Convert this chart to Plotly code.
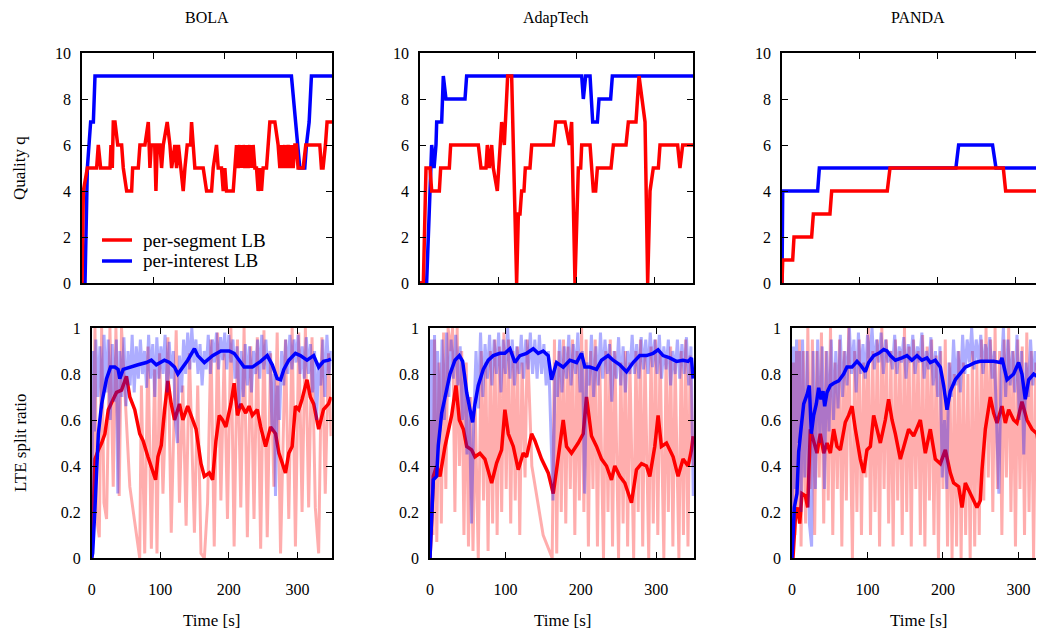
import plotly.graph_objects as go

# ---------------- Top row: Quality q ----------------
bola_q_seg_t = [0, 1.9, 7.5, 20.5, 22.8, 26.1, 39.2, 40.6, 42.4, 43.8, 46.2, 50, 55.5, 57.8, 62.5, 69.5, 70.9, 78.8, 81.1, 88.1,
                92.8, 95.1, 97, 101.8, 103.5, 105.4, 109.1, 111.4, 113.8, 119.3, 123.1, 125.5, 130, 132.4, 135, 141.7, 144.1,
                147.3, 152, 153.4, 155.7, 158, 169.7, 174.4, 181.4, 183.7, 188.3, 190.7, 195.3, 197.7, 200, 202.3, 211.7,
                214, 216.3, 218.6, 221, 223.3, 225.6, 228, 230.3, 232.6, 235, 237.3, 239.6, 242, 244.3, 246.6, 249, 251.3,
                253.6, 258.3, 260.6, 263, 270, 274.6, 277, 279.3, 281.6, 284, 286.2, 288.6, 290.9, 293.2, 295.6, 298,
                300.2, 302.5, 309.6, 313.3, 321.2, 323.5, 332.9, 335.2, 337.5, 340.8, 343.1, 350]
bola_q_seg = [0, 4, 5, 5, 6, 5, 5, 6, 5, 7, 7, 6, 6, 5, 4, 4, 5, 5, 6, 6,
              7, 5, 6, 6, 4, 6, 6, 5, 6, 7, 6, 5, 6, 5, 6, 4, 5,
              6, 6, 7, 6, 5, 5, 4, 4, 5, 6, 5, 5, 4, 5, 4, 4,
              5, 6, 5, 6, 5, 6, 5, 6, 5, 6, 5, 6, 5, 5, 4, 5, 4,
              5, 5, 6, 7, 7, 6, 5, 6, 5, 6, 5, 6, 5, 6, 5, 6,
              6, 5, 5, 6, 6, 6, 6, 5, 5, 6, 7, 7]
bola_q_int_t = [0, 4.2, 7.5, 9.8, 12.1, 15.9, 18.2, 293.2, 304.9, 311.9, 314.2, 318, 321.2, 350]
bola_q_int = [0, 0, 5, 6, 7, 7, 9, 9, 5, 5, 6, 7, 9, 9]

adap_q_seg_t = [0, 4.3, 7.7, 12.8, 15, 24.8, 26.5, 37.6, 39.3, 74.8, 78.2, 84.6, 86.3, 88.9, 91.9, 94, 99.1, 104.7, 108.1,
                112.4, 117.5, 123.9, 126.1, 128.2, 130.3, 133.3, 135, 141, 143.2, 170.9, 173.9, 185.9, 191.5, 194.4,
                198.7, 203, 206, 207.3, 218, 222.2, 225.2, 227.4, 244.9, 247.9, 264.1, 267.1, 276.9, 280.8, 288.5,
                291.9, 294.9, 299.1, 305.6, 307.7, 330.3, 333.3, 336.8, 350]
adap_q_seg = [0, 0, 5, 5, 4, 4, 5, 5, 6, 6, 5, 5, 6, 5, 6, 5, 4, 7, 6,
              9, 9, 0, 3, 3, 4, 4, 5, 5, 6, 6, 7, 7, 6, 7,
              0, 5, 5, 6, 6, 4, 4, 5, 5, 6, 6, 7, 7, 9, 7,
              0, 4, 5, 5, 6, 6, 5, 6, 6]
adap_q_int_t = [0, 8.5, 15, 18, 20.5, 21.4, 27.8, 29.9, 33.3, 57.7, 59.8, 207.3, 209.4, 212.4, 218, 221.4, 227.4, 229.5,
                244.4, 246.6, 350]
adap_q_int = [0, 0, 6, 5, 6, 7, 7, 9, 8, 8, 9, 9, 8, 9, 9, 7, 7, 8, 8, 9, 9]

panda_q_seg_t = [0, 0.9, 13.7, 15.4, 38, 40.2, 61.5, 63.7, 135, 138.5, 283.8, 286.8, 350]
panda_q_seg = [0, 1, 1, 2, 2, 3, 3, 4, 4, 5, 5, 4, 4]
panda_q_int_t = [0, 0.9, 45.7, 47.9, 223, 226.5, 270, 274.4, 350]
panda_q_int = [0, 4, 4, 5, 5, 6, 6, 5, 5]

# ---------------- Bottom row: LTE split ratio ----------------
# BOLA
bola_r_seg_raw_t = [0, 4.8, 7.2, 11.1, 14.5, 17.9, 21.7, 26.6, 31.4, 35.3, 40.1, 43.5, 55.6, 70, 72.5, 77.3, 82.1, 87,
                    91.8, 95.2, 99, 103.9, 111.1, 116, 123.2, 128, 132.9, 137.7, 142.5, 149.8, 154.6, 159.4, 164.3,
                    169, 173.9, 178.7, 183.6, 188.4, 193.2, 198, 203, 207.7, 212.6, 217.4, 222.2, 227, 231.9, 236.7,
                    241.5, 246.4, 251.2, 256, 260.9, 265.7, 270.5, 275.4, 282.6, 287.4, 292.3, 297.1, 302, 306.8,
                    311.6, 316.4, 321.3, 326.1, 331, 335.7, 340.6, 345.4, 349]
bola_r_seg_raw = [0.14, 1.0, 0.17, 0.09, 1.0, 0.24, 0.17, 1.0, 0.31, 1.0, 0.27, 1.0, 0.31, 0.0, 0.75, 0.02, 0.92, 0.04,
                  0.82, 0.02, 0.89, 0.28, 0.96, 0.11, 0.99, 0.24, 0.75, 0.14, 0.89, 0.11, 0.75, 0.02, 0.0,
                  0.24, 0.95, 0.05, 0.98, 0.25, 0.89, 0.17, 1.0, 0.05, 0.95, 0.22, 1.0, 0.09, 0.92, 0.17,
                  0.96, 0.04, 0.99, 0.09, 0.89, 0.31, 0.98, 0.02, 0.95, 0.17, 1.0, 0.05, 0.98, 0.2,
                  1.0, 0.22, 0.96, 0.22, 0.02, 0.96, 0.28, 0.89, 0.53]
bola_r_seg_avg_t = [0, 1.4, 4.8, 9.7, 14.5, 19.3, 24.2, 31.4, 36.2, 43.5, 50.7, 55.6, 62.8, 70, 74.9, 82, 89.4, 93.2, 96.6,
                    101.4, 106.3, 111.1, 116, 120.8, 128, 132.9, 140, 145, 152.2, 159.4, 164.3, 171.5, 176.3, 181.2,
                    186, 190.8, 195.7, 203, 207.7, 212.6, 217.4, 224.6, 229.5, 234.3, 241.5, 246.4, 253.6, 260.9,
                    268.1, 273, 277.8, 282.6, 287.4, 292.3, 297.1, 302, 306.8, 314, 318.8, 323.7, 331, 338, 345.4, 349]
bola_r_seg_avg = [0.0, 0.17, 0.43, 0.47, 0.5, 0.54, 0.645, 0.69, 0.72, 0.73, 0.79, 0.7, 0.645, 0.54, 0.51, 0.44, 0.38,
                  0.34, 0.44, 0.49, 0.645, 0.77, 0.67, 0.6, 0.67, 0.6, 0.66, 0.62, 0.56, 0.41, 0.355, 0.37, 0.34,
                  0.51, 0.62, 0.6, 0.57, 0.67, 0.76, 0.62, 0.67, 0.63, 0.66, 0.62, 0.645, 0.57, 0.485, 0.57, 0.54,
                  0.456, 0.41, 0.37, 0.456, 0.485, 0.66, 0.645, 0.69, 0.775, 0.7, 0.67, 0.56, 0.645, 0.67, 0.7]
bola_r_int_raw_t = [0, 2, 4, 6, 9, 12, 15, 18, 21, 24, 27, 30, 33, 36, 38, 41, 44, 47, 50, 53, 56, 59, 62, 65, 68, 71, 74,
                    77, 80, 83, 86, 89, 92, 95, 98, 101, 104, 107, 110, 113, 116, 119, 122, 125, 128, 131, 134, 137,
                    140, 143, 146, 149, 152, 155, 158, 161, 164, 167, 170, 173, 176, 179, 182, 185, 188, 191, 194,
                    197, 200, 203, 206, 209, 212, 215, 218, 221, 224, 227, 230, 233, 236, 239, 242, 245, 248, 251,
                    254, 257, 260, 263, 266, 268, 271, 274, 277, 280, 283, 286, 289, 292, 295, 298, 301, 304, 307,
                    310, 313, 316, 319, 322, 325, 328, 331, 334, 337, 340, 343, 346, 349]
bola_r_int_raw = [0.0, 0.9, 0.55, 0.95, 0.7, 0.92, 0.65, 0.97, 0.72, 0.95, 0.6, 0.93, 0.68, 0.95, 0.28, 0.9, 0.7, 0.96,
                  0.66, 0.9, 0.75, 0.97, 0.72, 0.92, 0.78, 0.95, 0.8, 0.9, 0.74, 0.97, 0.78, 0.93, 0.7, 0.96, 0.78,
                  0.92, 0.8, 0.97, 0.72, 0.94, 0.78, 0.9, 0.6, 0.5, 0.88, 0.72, 0.95, 0.8, 0.98, 0.82, 1.0, 0.85,
                  0.95, 0.8, 0.93, 0.75, 0.9, 0.82, 0.97, 0.8, 0.95, 0.85, 0.98, 0.82, 0.96, 0.86, 0.98, 0.82, 0.97,
                  0.85, 0.95, 0.78, 0.92, 0.65, 0.9, 0.7, 0.93, 0.75, 0.92, 0.72, 0.9, 0.8, 0.95, 0.78, 0.97, 0.82,
                  0.95, 0.8, 0.9, 0.55, 0.8, 0.27, 0.75, 0.6, 0.9, 0.75, 0.95, 0.8, 0.97, 0.82, 0.95, 0.85, 0.97,
                  0.8, 0.92, 0.78, 0.96, 0.8, 0.93, 0.72, 0.9, 0.6, 0.85, 0.75, 0.95, 0.7, 0.97, 0.8, 0.9]
bola_r_int_avg_t = [0, 1.4, 4.8, 9.7, 14.5, 21.7, 27.5, 33.8, 38.5, 41, 45.9, 55.6, 67.6, 79.7, 87, 94.2, 106, 113.5,
                    120.8, 125.6, 130.4, 140, 149.8, 154.6, 164.3, 176.3, 188.4, 200.5, 207.7, 215, 222.2, 234.3,
                    246.4, 256, 263.3, 270.5, 275.4, 280.2, 287.4, 297.1, 304.3, 314, 323.7, 331, 338, 345.4, 349]
bola_r_int_avg = [0.0, 0.02, 0.22, 0.54, 0.67, 0.78, 0.83, 0.83, 0.82, 0.78, 0.82, 0.83, 0.84, 0.85, 0.86, 0.84, 0.86,
                  0.85, 0.83, 0.8, 0.82, 0.86, 0.91, 0.88, 0.85, 0.88, 0.9, 0.9, 0.89, 0.86, 0.83, 0.83, 0.855,
                  0.88, 0.84, 0.78, 0.775, 0.82, 0.86, 0.89, 0.88, 0.86, 0.88, 0.83, 0.855, 0.86, 0.865]

# AdapTech
adap_r_seg_raw_t = [0, 2, 4, 6, 9, 12, 15, 18, 21, 24, 27, 30, 33, 36, 39, 42, 45, 48, 51, 54, 57, 60, 64, 68, 71, 74, 77,
                    80, 83, 86, 89, 92, 95, 98, 101, 104, 107, 110, 113, 116, 119, 122, 126, 129, 135, 150, 162, 165,
                    168, 171, 174, 177, 180, 183, 186, 189, 192, 195, 198, 201, 204, 207, 210, 213, 216, 219, 222,
                    225, 230, 233, 236, 239, 242, 245, 250, 253, 256, 259, 262, 265, 270, 273, 276, 279, 282, 285,
                    290, 293, 296, 299, 302, 305, 310, 313, 316, 319, 322, 325, 330, 333, 336, 339, 342, 345, 349]
adap_r_seg_raw = [0.0, 0.6, 0.1, 0.95, 0.07, 0.85, 0.15, 0.98, 0.3, 1.0, 0.9, 1.0, 0.2, 1.0, 0.4, 0.9, 0.1, 0.85, 0.05,
                  0.7, 0.03, 0.65, 0.0, 0.9, 0.25, 0.85, 0.03, 0.9, 0.15, 0.95, 0.1, 0.92, 0.2, 0.98, 0.3, 0.95,
                  0.15, 0.9, 0.25, 0.92, 0.1, 0.85, 0.35, 0.95, 0.4, 0.1, 0.0, 0.95, 0.02, 0.9, 0.2, 0.95, 0.15,
                  0.92, 0.3, 0.95, 0.1, 0.9, 0.25, 1.0, 0.2, 0.95, 0.05, 0.9, 0.3, 0.95, 0.05, 0.85, 0.0, 0.9, 0.2,
                  0.95, 0.05, 0.9, 0.0, 0.85, 0.15, 0.9, 0.05, 0.85, 0.0, 0.9, 0.2, 0.95, 0.05, 0.88, 0.0, 0.92,
                  0.15, 0.95, 0.1, 0.9, 0.0, 0.88, 0.2, 0.92, 0.05, 0.85, 0.0, 0.9, 0.1, 0.95, 0.05, 0.88, 0.4]
adap_r_seg_avg_t = [0, 2.2, 4.4, 8.8, 13.2, 19.9, 28.7, 34.4, 38.9, 44.2, 48.6, 55.2, 59.6, 66.2, 72.8, 81.7, 88.3, 94.9,
                    99.3, 103.8, 110.4, 117, 123.6, 128, 134.7, 139.1, 147.9, 156.7, 163.4, 167.8, 176.6, 181, 187.6,
                    196.5, 203.1, 207.5, 214.1, 220.8, 227.4, 234, 240.6, 245, 251.7, 258.3, 267.1, 273.7, 280.4,
                    287, 291.4, 298, 302.4, 306.8, 313.5, 322.3, 328.9, 335.5, 342.2, 346.6, 348.8]
adap_r_seg_avg = [0.0, 0.22, 0.355, 0.4, 0.355, 0.485, 0.62, 0.75, 0.6, 0.56, 0.485, 0.47, 0.44, 0.455, 0.43, 0.326,
                  0.413, 0.47, 0.645, 0.54, 0.485, 0.384, 0.456, 0.44, 0.54, 0.51, 0.43, 0.37, 0.28, 0.384, 0.6,
                  0.485, 0.456, 0.5, 0.54, 0.7, 0.53, 0.485, 0.43, 0.4, 0.34, 0.4, 0.355, 0.326, 0.24, 0.384, 0.41,
                  0.4, 0.355, 0.485, 0.62, 0.485, 0.5, 0.44, 0.355, 0.43, 0.4, 0.47, 0.53]
adap_r_int_raw_t = [0, 2, 4, 6, 8, 10, 13, 16, 19, 22, 25, 28, 31, 34, 37, 40, 43, 46, 49, 52, 55, 58, 61, 64, 67, 70, 73,
                    76, 79, 82, 85, 88, 91, 94, 97, 100, 103, 106, 109, 112, 115, 118, 121, 124, 127, 130, 133, 136,
                    139, 142, 145, 148, 151, 154, 157, 160, 163, 166, 169, 172, 175, 178, 181, 184, 187, 190, 193,
                    196, 199, 202, 205, 208, 211, 214, 217, 220, 223, 226, 229, 232, 235, 238, 241, 244, 247, 250,
                    253, 256, 259, 262, 265, 268, 271, 274, 277, 280, 283, 286, 289, 292, 295, 298, 301, 304, 307,
                    310, 313, 316, 319, 322, 325, 328, 331, 334, 337, 340, 343, 346, 349]
adap_r_int_raw = [0.0, 0.95, 0.3, 0.97, 0.4, 0.9, 0.55, 0.95, 0.6, 0.98, 0.7, 0.95, 0.78, 0.97, 0.75, 0.92, 0.6, 0.8,
                  0.45, 0.7, 0.15, 0.6, 0.9, 0.65, 0.98, 0.7, 0.93, 0.78, 0.97, 0.75, 0.95, 0.8, 0.98, 0.72, 0.95,
                  0.8, 1.0, 0.78, 0.95, 0.75, 0.92, 0.8, 0.97, 0.78, 0.95, 0.82, 0.98, 0.8, 0.95, 0.78, 0.97, 0.8,
                  0.93, 0.75, 0.9, 0.6, 0.25, 0.85, 0.7, 0.95, 0.72, 0.92, 0.78, 0.97, 0.75, 0.93, 0.8, 0.98, 0.72,
                  0.9, 0.28, 0.85, 0.75, 0.97, 0.7, 0.92, 0.75, 0.98, 0.78, 0.95, 0.8, 0.93, 0.68, 0.9, 0.78, 0.96,
                  0.75, 0.92, 0.72, 0.9, 0.8, 0.97, 0.8, 0.93, 0.78, 0.96, 0.82, 0.95, 0.8, 0.98, 0.83, 0.95, 0.8,
                  0.97, 0.78, 0.92, 0.82, 0.95, 0.75, 0.9, 0.8, 0.95, 0.78, 0.93, 0.8, 0.96, 0.75, 0.92, 0.27]
adap_r_int_avg_t = [0, 2.2, 4.4, 8.8, 11, 15.5, 19.9, 26.5, 33.1, 38.9, 43.3, 48.6, 53, 56.5, 59.6, 64, 70.6, 77.3, 83.9,
                    92.7, 99.3, 106, 112.6, 119.2, 128, 136.9, 143.5, 150.1, 156.7, 161.1, 167.8, 176.6, 185.4,
                    194.3, 200.9, 205.3, 211.9, 220.8, 227.4, 236.2, 242.8, 251.7, 260.5, 269.3, 278.1, 287, 295.8,
                    302.4, 309, 317.9, 326.7, 335.5, 342.2, 346.6, 348.8]
adap_r_int_avg = [0.0, 0.17, 0.34, 0.355, 0.49, 0.63, 0.7, 0.8, 0.86, 0.88, 0.855, 0.72, 0.645, 0.59, 0.67, 0.75, 0.82,
                  0.86, 0.88, 0.89, 0.89, 0.91, 0.85, 0.88, 0.89, 0.91, 0.89, 0.9, 0.88, 0.775, 0.85, 0.83, 0.86,
                  0.85, 0.89, 0.83, 0.83, 0.82, 0.86, 0.88, 0.86, 0.84, 0.81, 0.85, 0.88, 0.88, 0.89, 0.905, 0.88,
                  0.87, 0.855, 0.86, 0.855, 0.87, 0.78]

# PANDA
panda_r_seg_raw_t = [0, 2, 4, 6, 8, 10, 12, 15, 18, 21, 24, 27, 30, 33, 36, 39, 42, 45, 48, 51, 54, 57, 60, 63, 66, 69, 72,
                     75, 80, 83, 86, 89, 92, 95, 98, 101, 104, 107, 110, 113, 116, 119, 122, 125, 128, 131, 134, 137,
                     140, 143, 146, 149, 152, 155, 158, 161, 164, 167, 170, 173, 176, 179, 182, 185, 188, 191, 194,
                     197, 200, 203, 206, 209, 212, 215, 218, 221, 224, 227, 230, 233, 236, 239, 242, 245, 248, 251,
                     254, 257, 260, 263, 266, 269, 272, 275, 278, 281, 284, 287, 290, 293, 296, 299, 302, 305, 308,
                     311, 314, 317, 320, 323, 326, 329, 332, 335]
panda_r_seg_raw = [0.0, 0.85, 0.1, 0.9, 0.2, 0.95, 0.05, 0.9, 0.15, 1.0, 0.3, 0.95, 0.1, 0.9, 0.35, 0.98, 0.15, 0.9,
                   0.25, 1.0, 0.1, 0.85, 0.3, 0.95, 0.05, 0.9, 0.25, 1.0, 0.0, 0.9, 0.2, 0.95, 0.1, 0.85, 0.35, 1.0,
                   0.1, 0.9, 0.2, 0.95, 0.05, 1.0, 0.3, 0.95, 0.15, 0.9, 0.05, 0.95, 0.25, 0.9, 0.1, 1.0, 0.2, 0.92,
                   0.05, 0.95, 0.3, 0.9, 0.1, 0.97, 0.05, 0.92, 0.25, 0.95, 0.1, 0.88, 0.0, 0.9, 0.3, 0.95, 0.05,
                   0.85, 0.0, 0.8, 0.05, 0.9, 0.0, 0.85, 0.1, 0.8, 0.0, 0.9, 0.05, 0.85, 0.1, 0.95, 0.25, 1.0, 0.35,
                   0.95, 0.2, 1.0, 0.3, 0.9, 0.1, 0.95, 0.35, 1.0, 0.2, 0.9, 0.05, 0.95, 0.3, 0.92, 0.1, 0.98, 0.2,
                   0.9, 0.0, 0.85, 0.15, 0.95, 0.25, 0.9]
panda_r_seg_avg_t = [0, 1.3, 4.4, 7.5, 10.2, 13.2, 17.7, 20.8, 24.3, 28.7, 33.1, 37.5, 42, 46.4, 50.8, 55.2, 59.6, 64,
                     70.6, 75, 79.5, 83.9, 90.5, 94.9, 99.3, 103.8, 108.2, 112.6, 117, 123.6, 128, 132.5, 136.9,
                     143.5, 147.9, 154.5, 161.1, 165.6, 170, 176.6, 183.2, 189.8, 196.5, 203.1, 209.7, 214.1, 220.8,
                     225.2, 229.6, 236.2, 245, 249.4, 251.7, 256.1, 262.7, 267.1, 271.5, 278.1, 282.6, 287, 293.6,
                     298, 304.6, 311.3, 317.9, 324.5, 329, 334.2]
panda_r_seg_avg = [0.0, 0.0, 0.17, 0.22, 0.15, 0.28, 0.27, 0.22, 0.56, 0.51, 0.456, 0.54, 0.456, 0.5, 0.456, 0.56,
                   0.485, 0.47, 0.59, 0.62, 0.66, 0.56, 0.43, 0.37, 0.47, 0.485, 0.62, 0.56, 0.5, 0.6, 0.69, 0.6,
                   0.54, 0.43, 0.485, 0.56, 0.53, 0.57, 0.6, 0.456, 0.56, 0.43, 0.41, 0.47, 0.37, 0.326, 0.31, 0.22,
                   0.326, 0.28, 0.22, 0.25, 0.384, 0.56, 0.7, 0.63, 0.587, 0.66, 0.587, 0.645, 0.6, 0.587, 0.68,
                   0.6, 0.56, 0.54, 0.44, 0.384]
panda_r_int_raw_t = [0, 2, 4, 6, 8, 10, 12, 14, 17, 20, 23, 26, 28, 31, 34, 37, 40, 43, 46, 49, 52, 55, 58, 61, 64, 67,
                     70, 73, 76, 79, 82, 85, 88, 91, 94, 97, 100, 103, 106, 109, 112, 115, 118, 121, 124, 127, 130,
                     133, 136, 139, 142, 145, 148, 151, 154, 157, 160, 163, 166, 169, 172, 175, 178, 181, 184, 187,
                     190, 193, 196, 199, 202, 205, 208, 211, 214, 217, 220, 223, 226, 229, 232, 235, 238, 241, 244,
                     247, 250, 253, 256, 259, 262, 265, 268, 271, 274, 277, 280, 283, 286, 289, 292, 295, 298, 301,
                     304, 307, 310, 313, 316, 319, 322, 325, 328, 331, 334]
panda_r_int_raw = [0.1, 0.92, 0.3, 0.95, 0.5, 0.9, 0.2, 0.95, 0.35, 0.9, 0.15, 0.05, 0.9, 0.3, 0.95, 0.5, 0.92, 0.3,
                   0.9, 0.55, 0.95, 0.6, 0.9, 0.65, 0.97, 0.7, 0.9, 0.75, 1.0, 0.8, 0.95, 0.72, 0.98, 0.8, 0.93,
                   0.78, 0.97, 0.85, 1.0, 0.82, 0.95, 0.85, 0.98, 0.8, 0.95, 0.85, 0.9, 0.82, 0.97, 0.8, 0.92,
                   0.85, 0.96, 0.78, 0.93, 0.85, 0.97, 0.8, 0.92, 0.85, 0.98, 0.78, 0.9, 0.82, 0.96, 0.75, 0.9, 0.7,
                   0.92, 0.35, 0.6, 0.3, 0.85, 0.7, 0.95, 0.75, 0.9, 0.72, 0.97, 0.8, 0.95, 0.85, 1.0, 0.82, 0.95,
                   0.85, 0.97, 0.8, 0.93, 0.85, 0.96, 0.78, 0.9, 0.6, 0.28, 0.8, 1.0, 0.7, 0.95, 0.75, 0.9, 0.72,
                   0.97, 0.6, 0.9, 0.45, 0.85, 0.7, 0.95, 0.75, 0.9, 0.8, 0.98, 0.78, 0.95]
panda_r_int_avg_t = [0, 1.3, 3.1, 6.6, 8.8, 11.9, 15.5, 19.9, 23, 25.6, 28.7, 32.2, 35.3, 38.4, 41.1, 43.3, 46.4, 50.8,
                     55.2, 61.8, 68.4, 72.8, 79.5, 86.1, 90.5, 97.1, 101.5, 108.2, 114.8, 121.4, 125.8, 130.2, 136.9,
                     145.7, 152.3, 158.9, 165.6, 172.2, 178.8, 183.2, 189.8, 196.5, 200.9, 205.3, 209.7, 216.3, 223,
                     229.6, 236.2, 242.8, 249.4, 258.3, 267.1, 275.9, 278.1, 284.8, 293.6, 300.2, 304.6, 309, 313.5,
                     320.1, 324.5, 329, 334.2]
panda_r_int_avg = [0.0, 0.08, 0.22, 0.28, 0.46, 0.56, 0.67, 0.71, 0.75, 0.54, 0.62, 0.67, 0.74, 0.69, 0.725, 0.66,
                   0.72, 0.75, 0.76, 0.77, 0.8, 0.83, 0.83, 0.855, 0.84, 0.81, 0.85, 0.88, 0.89, 0.906, 0.9, 0.88,
                   0.86, 0.87, 0.88, 0.86, 0.88, 0.86, 0.87, 0.85, 0.86, 0.83, 0.75, 0.645, 0.725, 0.775, 0.8, 0.83,
                   0.84, 0.85, 0.855, 0.855, 0.855, 0.85, 0.87, 0.775, 0.8, 0.85, 0.8, 0.69, 0.775, 0.8, 0.79, 0.8,
                   0.85]

titles = ["BOLA", "AdapTech", "PANDA"]
legend_names = ["per-segment LB", "per-interest LB"]

RED = "#ff0000"
BLUE = "#0000ff"
RED_FAINT = "rgba(255,0,0,0.32)"
BLUE_FAINT = "rgba(0,0,255,0.32)"
FONT = "Liberation Serif"

# The page body adds an 8 px margin, so the figure is placed at (8, 8) in the window.
OFF = 8
W, H = 1044 - OFF, 631 - OFF


def px(sx):
    """window x pixel -> paper x"""
    return (sx - OFF) / W


def py(sy):
    """window y pixel -> paper y"""
    return (H - (sy - OFF)) / H


fig = go.Figure()

# top row
top = [(bola_q_seg_t, bola_q_seg, bola_q_int_t, bola_q_int),
       (adap_q_seg_t, adap_q_seg, adap_q_int_t, adap_q_int),
       (panda_q_seg_t, panda_q_seg, panda_q_int_t, panda_q_int)]
for i, (ts, qs, ti, qi) in enumerate(top):
    ax = "" if i == 0 else str(i + 1)
    fig.add_trace(go.Scatter(x=ti, y=qi, mode="lines", line=dict(color=BLUE, width=3.5),
                             name=legend_names[1], showlegend=False,
                             xaxis="x" + ax, yaxis="y" + ax))
    fig.add_trace(go.Scatter(x=ts, y=qs, mode="lines", line=dict(color=RED, width=3.5),
                             name=legend_names[0], showlegend=False,
                             xaxis="x" + ax, yaxis="y" + ax))

bottom = [(bola_r_seg_raw_t, bola_r_seg_raw, bola_r_seg_avg_t, bola_r_seg_avg,
           bola_r_int_raw_t, bola_r_int_raw, bola_r_int_avg_t, bola_r_int_avg),
          (adap_r_seg_raw_t, adap_r_seg_raw, adap_r_seg_avg_t, adap_r_seg_avg,
           adap_r_int_raw_t, adap_r_int_raw, adap_r_int_avg_t, adap_r_int_avg),
          (panda_r_seg_raw_t, panda_r_seg_raw, panda_r_seg_avg_t, panda_r_seg_avg,
           panda_r_int_raw_t, panda_r_int_raw, panda_r_int_avg_t, panda_r_int_avg)]
for i, (a, b, c, d, e, f, g, h) in enumerate(bottom):
    ax = str(i + 4)
    kw = dict(mode="lines", showlegend=False, xaxis="x" + ax, yaxis="y" + ax)
    fig.add_trace(go.Scatter(x=a, y=b, line=dict(color=RED_FAINT, width=3), **kw))
    fig.add_trace(go.Scatter(x=c, y=d, line=dict(color=RED, width=3.5), **kw))
    fig.add_trace(go.Scatter(x=e, y=f, line=dict(color=BLUE_FAINT, width=3), **kw))
    fig.add_trace(go.Scatter(x=g, y=h, line=dict(color=BLUE, width=3.5), **kw))

# window-pixel geometry of the panels
top_y = (53, 283)
bot_y = (328, 558)
top_x = [(82, 332, 350), (420, 693, 350), (782, 1044, 336)]
bot_x = [(91.7, 331.7, 350), (430, 694, 350), (792, 1044, 333.8)]

axis_common = dict(showgrid=False, zeroline=False, showline=True, linecolor="black", linewidth=1.5,
                   ticks="inside", ticklen=6, tickwidth=1.2, tickcolor="black",
                   tickfont=dict(family=FONT, size=16, color="black"), automargin=False)

layout = {}
for i in range(3):
    ax = "" if i == 0 else str(i + 1)
    x0, x1, xr = top_x[i]
    last = (i == 2)
    layout["xaxis" + ax] = dict(domain=[px(x0), min(1.0, px(x1))], range=[0, xr], anchor="y" + ax,
                                tickvals=[0, 100, 200, 300], showticklabels=False,
                                mirror="ticks", **axis_common)
    layout["yaxis" + ax] = dict(domain=[py(top_y[1]), py(top_y[0])], range=[0, 10], anchor="x" + ax,
                                tickvals=[0, 2, 4, 6, 8, 10], mirror=(False if last else "ticks"),
                                ticklabelstandoff=6, **axis_common)
for i in range(3):
    ax = str(i + 4)
    x0, x1, xr = bot_x[i]
    last = (i == 2)
    layout["xaxis" + ax] = dict(domain=[px(x0), min(1.0, px(x1))], range=[0, xr], anchor="y" + ax,
                                tickvals=[0, 100, 200, 300], ticktext=["0", "100", "200", "300"],
                                mirror="ticks", ticklabelstandoff=16, **axis_common)
    layout["yaxis" + ax] = dict(domain=[py(bot_y[1]), py(bot_y[0])], range=[0, 1], anchor="x" + ax,
                                tickvals=[0, 0.2, 0.4, 0.6, 0.8, 1],
                                ticktext=["0", "0.2", "0.4", "0.6", "0.8", "1"],
                                mirror=(False if last else "ticks"), ticklabelstandoff=6, **axis_common)

annotations = []
title_x = [207, 556, 918]
for i, t in enumerate(titles):
    annotations.append(dict(text=t, x=px(title_x[i]), y=1.0, xref="paper", yref="paper",
                            showarrow=False, font=dict(family=FONT, size=16, color="black"),
                            xanchor="center", yanchor="top", borderpad=0))
time_x = [211.7, 562, 918]
for xx in time_x:
    annotations.append(dict(text="Time [s]", x=px(xx), y=py(620), xref="paper", yref="paper",
                            showarrow=False, font=dict(family=FONT, size=17, color="black"),
                            xanchor="center", yanchor="middle"))
annotations.append(dict(text="Quality q", x=px(20), y=py(168), xref="paper", yref="paper",
                        showarrow=False, textangle=-90, font=dict(family=FONT, size=17, color="black"),
                        xanchor="center", yanchor="middle"))
annotations.append(dict(text="LTE split ratio", x=px(20), y=py(443), xref="paper", yref="paper",
                        showarrow=False, textangle=-90, font=dict(family=FONT, size=17, color="black"),
                        xanchor="center", yanchor="middle"))

# legend (key samples + labels) inside the BOLA quality panel
legend_rows = [(240, RED, legend_names[0]), (261, BLUE, legend_names[1])]
shapes = []
for ly, col, name in legend_rows:
    shapes.append(dict(type="line", xref="paper", yref="paper", x0=px(102), x1=px(132), y0=py(ly), y1=py(ly),
                       line=dict(color=col, width=3.5)))
    annotations.append(dict(text=name, x=px(141), y=py(ly), xref="paper", yref="paper", showarrow=False,
                            font=dict(family=FONT, size=19, color="black"), xanchor="left", yanchor="middle"))

fig.update_layout(
    width=W, height=H,
    margin=dict(l=0, r=0, t=0, b=0),
    paper_bgcolor="white", plot_bgcolor="white",
    annotations=annotations,
    shapes=shapes,
    showlegend=False,
    **layout
)

fig.write_html("out.html")
